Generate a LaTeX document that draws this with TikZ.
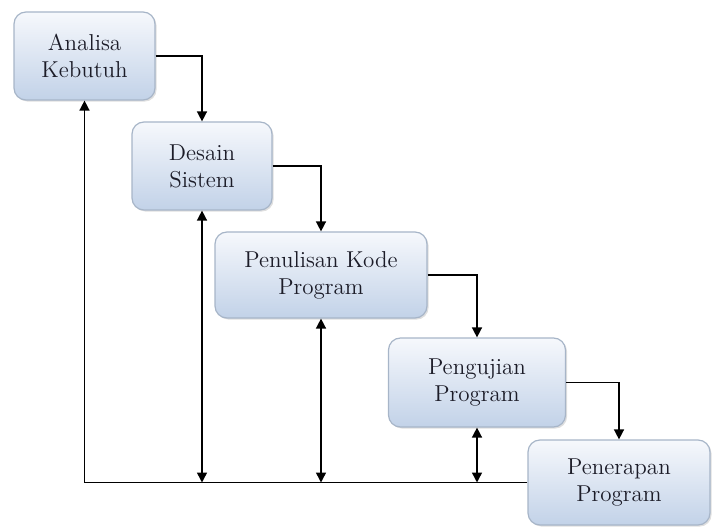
\documentclass[tikz,border=0pt]{standalone}
\usetikzlibrary{arrows.meta, shadows, positioning}
\definecolor{boxTop}{HTML}{F6F8FC}
\definecolor{boxBot}{HTML}{C2D2E8}
\definecolor{boxEdge}{HTML}{A7B5C8}
\definecolor{txtDark}{HTML}{1C1C28}
\tikzset{
  phase/.style = {rounded corners=6pt, draw=boxEdge, line width=0.6pt,
                  top color=boxTop, bottom color=boxBot, align=center,
                  text=txtDark, font=\fontsize{11.5}{13.5}\selectfont,
                  drop shadow={opacity=0.25, shadow xshift=0.8pt, shadow yshift=-0.8pt}},
  flow/.style  = {-{Triangle[length=5pt, width=5pt]}, line width=0.75pt, black},
  both/.style  = {{Triangle[length=5pt, width=5pt]}-{Triangle[length=5pt, width=5pt]},
                  line width=0.75pt, black},
}
\begin{document}
\begin{tikzpicture}[x=0.5pt, y=-0.5pt]
  \useasboundingbox (0,0) rectangle (712,529);
  \node[phase, minimum width=70.5pt, minimum height=44pt] (anl) at (84.5,56) {Analisa\\Kebutuh};
  \node[phase, minimum width=70pt, minimum height=44pt] (dsn) at (202,166) {Desain\\Sistem};
  \node[phase, minimum width=106pt, minimum height=43pt] (kod) at (321,275) {Penulisan Kode\\Program};
  \node[phase, minimum width=88.5pt, minimum height=44.5pt] (uji) at (477,382.5) {Pengujian\\Program};
  \node[phase, minimum width=91pt, minimum height=42.5pt] (trp) at (619,482.5) {Penerapan\\Program};
  % forward steps
  \draw[flow] (anl.east) -| (dsn.north);
  \draw[flow] (dsn.east) -| (kod.north);
  \draw[flow] (kod.east) -| (uji.north);
  \draw[flow] (uji.east) -| (trp.north);
  % feedback line along the bottom
  \draw[flow] (trp.west) -| (anl.south);
  \draw[both] (dsn.south) -- (dsn.south |- trp.west);
  \draw[both] (kod.south) -- (kod.south |- trp.west);
  \draw[both] (uji.south) -- (uji.south |- trp.west);
\end{tikzpicture}
\end{document}
